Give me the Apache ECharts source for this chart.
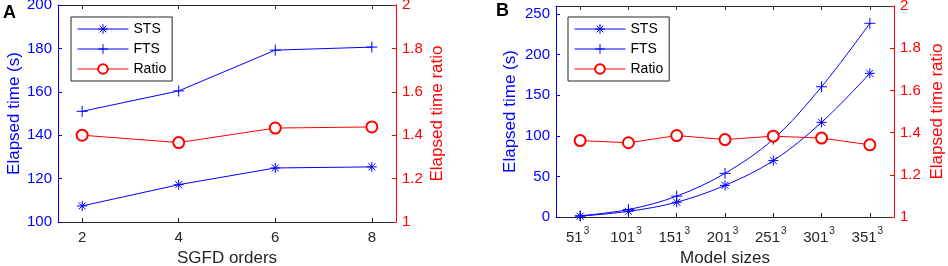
<!DOCTYPE html>
<html>
<head>
<meta charset="utf-8">
<script src="https://cdn.jsdelivr.net/npm/echarts@6/dist/echarts.min.js"></script>
<style>
html, body { margin: 0; padding: 0; background: #fff; }
#chart { width: 948px; height: 266px; }
</style>
</head>
<body>
<div id="chart"></div>
<script>
// panel A: SGFD orders
const ordersA = [2, 4, 6, 8];
const stsA = [107.4, 117.2, 124.9, 125.4];
const ftsA = [151.0, 160.4, 179.2, 180.6];
const ratioA = [1.400, 1.366, 1.433, 1.438];

// panel B: model sizes (n^3)
const sizesB = ['51', '101', '151', '201', '251', '301', '351'];
const stsB = [1.0, 7.0, 18.2, 39.0, 69.5, 116.6, 177.0];
const ftsB = [1.5, 9.2, 25.7, 53.8, 96.0, 160.5, 238.7];
const ratioB = [1.362, 1.352, 1.386, 1.367, 1.383, 1.374, 1.342];

const ticksA = [100, 120, 140, 160, 180, 200];
const ticksB = [0, 50, 100, 150, 200, 250];

const BLUE = '#0000ff';
const RED = '#ff0000';
const GRAY = '#262626';
const FONT = 'Liberation Sans';

// asterisk and plus markers, drawn as strokes
const starPath = 'path://M0 5L10 5M5 0L5 10M1.5 1.5L8.5 8.5M1.5 8.5L8.5 1.5';
const plusPath = 'path://M0 5L10 5M5 0L5 10';

const chart = echarts.init(document.getElementById('chart'), null, { renderer: 'canvas' });

function yAxisOf(grid, side, color, min, max, interval, name, gap, custom) {
  const ax = {
    type: 'value', gridIndex: grid, position: side,
    min: min, max: max, interval: interval,
    name: name, nameLocation: 'middle', nameRotate: 90, nameGap: gap,
    nameTextStyle: { color: color, fontSize: 17, fontFamily: FONT },
    axisLine: { show: true, lineStyle: { color: color, width: 1 } },
    axisTick: { show: true, inside: true, length: 4, lineStyle: { color: color } },
    axisLabel: { color: color, fontSize: 15, fontFamily: FONT, margin: 6 },
    splitLine: { show: false }
  };
  if (custom) {
    ax.axisLabel.customValues = custom;
    ax.axisTick.customValues = custom;
  }
  return ax;
}

function seriesOf(name, xi, yi, data, color, symbol, size, smooth) {
  return {
    name: name, type: 'line', xAxisIndex: xi, yAxisIndex: yi,
    data: data, smooth: smooth || false,
    symbol: symbol, symbolSize: size,
    lineStyle: { color: color, width: 1 },
    itemStyle: { color: color, borderColor: color, borderWidth: 1 },
    animation: false
  };
}

const legendStyle = {
  orient: 'vertical', top: 17,
  backgroundColor: '#fff', borderColor: GRAY, borderWidth: 1, borderRadius: 0,
  padding: [5, 6, 5, 6], itemWidth: 51, itemHeight: 12, itemGap: 6,
  lineStyle: { width: 1 },
  itemStyle: { borderWidth: 1 },
  textStyle: { color: '#000', fontSize: 14, fontFamily: FONT },
  data: ['STS', 'FTS', 'Ratio']
};

const option = {
  backgroundColor: '#fff',
  animation: false,
  grid: [
    { left: 58, top: 5, width: 338, height: 217, outerBoundsMode: 'none' },
    { left: 556, top: 6, width: 338, height: 211, outerBoundsMode: 'none' }
  ],
  legend: [
    Object.assign({ left: 71 }, legendStyle),
    Object.assign({ left: 568 }, legendStyle)
  ],
  xAxis: [
    {
      type: 'value', gridIndex: 0, position: 'bottom', min: 1.5, max: 8.5,
      name: 'SGFD orders', nameLocation: 'middle', nameGap: 24,
      nameTextStyle: { color: GRAY, fontSize: 17, fontFamily: FONT },
      axisLine: { show: true, lineStyle: { color: GRAY } },
      axisTick: { show: true, inside: true, length: 4, customValues: ordersA, lineStyle: { color: GRAY } },
      axisLabel: { color: GRAY, fontSize: 15, fontFamily: FONT, margin: 8, customValues: ordersA },
      splitLine: { show: false }
    },
    {
      type: 'value', gridIndex: 0, position: 'top', min: 1.5, max: 8.5,
      axisLine: { show: true, lineStyle: { color: GRAY } },
      axisTick: { show: true, inside: true, length: 4, customValues: ordersA, lineStyle: { color: GRAY } },
      axisLabel: { show: false },
      splitLine: { show: false }
    },
    {
      type: 'category', gridIndex: 1, position: 'bottom', data: sizesB,
      name: 'Model sizes', nameLocation: 'middle', nameGap: 32,
      nameTextStyle: { color: GRAY, fontSize: 17, fontFamily: FONT },
      axisLine: { show: true, lineStyle: { color: GRAY } },
      axisTick: { show: true, inside: true, length: 4, alignWithLabel: true, lineStyle: { color: GRAY } },
      axisLabel: {
        margin: 6, interval: 0,
        formatter: v => '{b|' + v + '}{s|3}',
        rich: {
          b: { color: GRAY, fontSize: 15, fontFamily: FONT, padding: [7, 0, 0, 0] },
          s: { color: GRAY, fontSize: 10, fontFamily: FONT, padding: [0, 5, 5, 1] }
        }
      },
      splitLine: { show: false }
    },
    {
      type: 'category', gridIndex: 1, position: 'top', data: sizesB,
      axisLine: { show: true, lineStyle: { color: GRAY } },
      axisTick: { show: true, inside: true, length: 4, alignWithLabel: true, lineStyle: { color: GRAY } },
      axisLabel: { show: false },
      splitLine: { show: false }
    }
  ],
  yAxis: [
    yAxisOf(0, 'left', BLUE, 100, 200, 20, 'Elapsed time (s)', 35, ticksA),
    yAxisOf(0, 'right', RED, 1, 2, 0.2, 'Elapsed time ratio', 33),
    yAxisOf(1, 'left', BLUE, 0, 260, 50, 'Elapsed time (s)', 37, ticksB),
    yAxisOf(1, 'right', RED, 1, 2, 0.2, 'Elapsed time ratio', 35)
  ],
  graphic: [
    { type: 'text', left: 3, top: 4, style: { text: 'A', fontSize: 18, fontWeight: 'bold', fontFamily: FONT, fill: '#000' } },
    { type: 'text', left: 496, top: 2, style: { text: 'B', fontSize: 18, fontWeight: 'bold', fontFamily: FONT, fill: '#000' } }
  ],
  series: [
    seriesOf('STS', 0, 0, ordersA.map((x, i) => [x, stsA[i]]), BLUE, starPath, 10),
    seriesOf('FTS', 0, 0, ordersA.map((x, i) => [x, ftsA[i]]), BLUE, plusPath, 11),
    seriesOf('Ratio', 0, 1, ordersA.map((x, i) => [x, ratioA[i]]), RED, 'emptyCircle', 11),
    seriesOf('STS', 2, 2, stsB, BLUE, starPath, 10, 0.35),
    seriesOf('FTS', 2, 2, ftsB, BLUE, plusPath, 11, 0.35),
    seriesOf('Ratio', 2, 3, ratioB, RED, 'emptyCircle', 11)
  ]
};

chart.setOption(option);
window.addEventListener('resize', function () {
  chart.resize();
});
</script>
</body>
</html>
